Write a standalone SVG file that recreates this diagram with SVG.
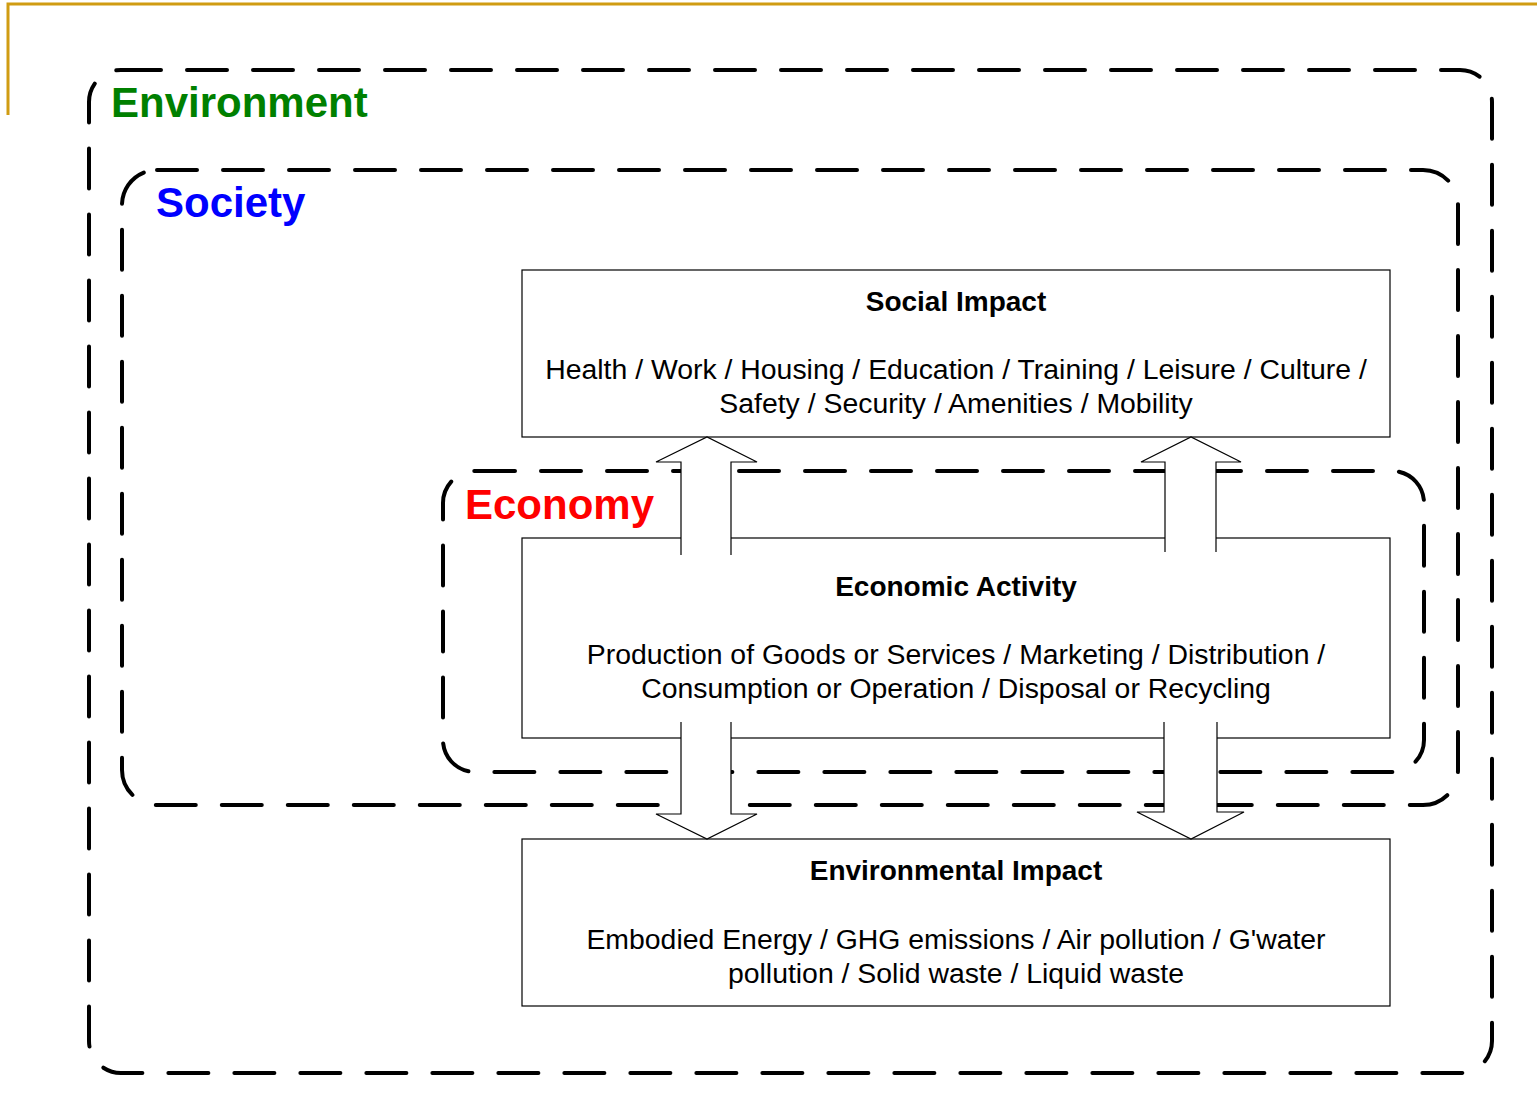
<svg xmlns="http://www.w3.org/2000/svg" width="1537" height="1095" viewBox="0 0 1537 1095">
<style>
.zone{fill:none;stroke:#000;stroke-width:4;stroke-dasharray:40 26;stroke-linecap:round}
.box{fill:#fff;stroke:#000;stroke-width:1.2}
.afill{fill:#fff;stroke:none}
.aline{fill:none;stroke:#000;stroke-width:1.2;stroke-linejoin:miter}
.title{font-family:"Liberation Sans",Arial,sans-serif;font-weight:bold;font-size:28px;text-anchor:middle;fill:#000}
.body{font-family:"Liberation Sans",Arial,sans-serif;font-size:28.4px;text-anchor:middle;fill:#000}
.zlabel{font-family:"Liberation Sans",Arial,sans-serif;font-weight:bold;font-size:42px}
</style>
<rect width="1537" height="1095" fill="#fff"/>
<g id="frame">
<polyline points="8,115 8,4 1537,4" fill="none" stroke="#D09C12" stroke-width="3"/>
</g>
<g id="environment">
<rect class="zone" x="89" y="70" width="1403" height="1003" rx="32" ry="32"/>
<text class="zlabel" x="111" y="117" fill="#008000">Environment</text>
</g>
<g id="society">
<rect class="zone" x="122" y="170" width="1336" height="635" rx="35" ry="35"/>
<text class="zlabel" x="156" y="217" fill="#0000FF">Society</text>
</g>
<g id="economy">
<rect class="zone" x="443" y="471" width="981" height="301" rx="32" ry="32"/>
<text class="zlabel" x="465" y="519" fill="#FF0000">Economy</text>
</g>
<g id="social-impact">
<rect class="box" x="522" y="270" width="868" height="167"/>
<text class="title" x="956" y="311">Social Impact</text>
<text class="body" x="956" y="379">Health / Work / Housing / Education / Training / Leisure / Culture /</text>
<text class="body" x="956" y="413">Safety / Security / Amenities / Mobility</text>
</g>
<g id="economic-activity">
<rect class="box" x="522" y="538" width="868" height="200"/>
<text class="title" x="956" y="596">Economic Activity</text>
<text class="body" x="956" y="664">Production of Goods or Services / Marketing / Distribution /</text>
<text class="body" x="956" y="698">Consumption or Operation / Disposal or Recycling</text>
</g>
<g id="environmental-impact">
<rect class="box" x="522" y="839" width="868" height="167"/>
<text class="title" x="956" y="880">Environmental Impact</text>
<text class="body" x="956" y="949">Embodied Energy / GHG emissions / Air pollution / G'water</text>
<text class="body" x="956" y="983">pollution / Solid waste / Liquid waste</text>
</g>
<g id="connectors">
<polygon class="afill" points="681,555 681,462 656,462 707,437 757,462 731,462 731,555"/>
<polyline class="aline" points="681,555 681,462 656,462 707,437 757,462 731,462 731,555"/>
<polygon class="afill" points="1165,552 1165,462 1141,462 1191,437 1241,462 1216,462 1216,552"/>
<polyline class="aline" points="1165,552 1165,462 1141,462 1191,437 1241,462 1216,462 1216,552"/>
<polygon class="afill" points="681,722 681,814 656,814 707,839 757,814 731,814 731,722"/>
<polyline class="aline" points="681,722 681,814 656,814 707,839 757,814 731,814 731,722"/>
<polygon class="afill" points="1164,722 1164,812 1137,812 1191,839 1244,812 1217,812 1217,722"/>
<polyline class="aline" points="1164,722 1164,812 1137,812 1191,839 1244,812 1217,812 1217,722"/>
</g>
</svg>
